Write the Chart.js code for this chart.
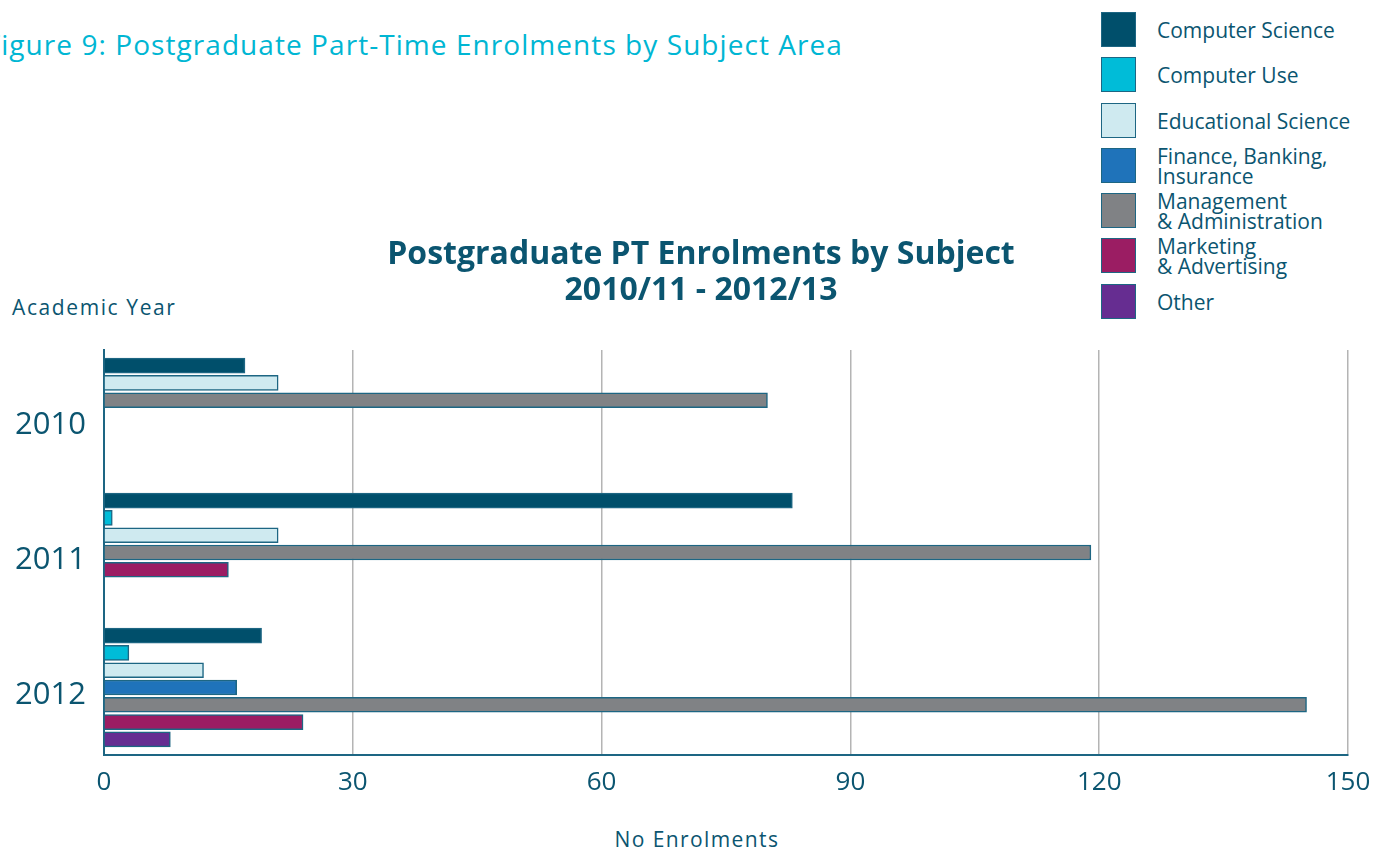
<html>
<head>
<meta charset="utf-8">
<title>Postgraduate PT Enrolments by Subject</title>
<script src="https://cdn.jsdelivr.net/npm/chart.js@4.4.1/dist/chart.umd.min.js"></script>
<style>
body {
  margin: 0;
  width: 1375px;
  height: 852px;
  overflow: hidden;
  background: #fff;
  font-family: "Open Sans", sans-serif;
  color: #0b5570;
  position: relative;
}
.box {
  position: absolute;
  left: 0;
  top: 0;
  width: 1403px;
  height: 852px;
}
.caption {
  position: absolute;
  right: 532px;
  top: 25px;
  font-size: 28px;
  letter-spacing: 1.06px;
  color: #00b6d3;
  white-space: nowrap;
}
.ylabel {
  position: absolute;
  left: 12px;
  top: 293px;
  font-size: 21px;
  letter-spacing: 1.6px;
}
.xlabel {
  position: absolute;
  left: 547px;
  width: 300px;
  text-align: center;
  top: 825px;
  font-size: 21px;
  letter-spacing: 1.4px;
}
#legend {
  position: absolute;
  left: 1101px;
  top: 12px;
}
.item {
  position: relative;
  height: 45.3px;
}
.sw {
  position: absolute;
  left: 0;
  top: 0;
  width: 33px;
  height: 33px;
  border: 1px solid #1d6683;
}
.lt {
  position: absolute;
  left: 56px;
  top: 18px;
  transform: translateY(-50%);
  font-size: 21px;
  line-height: 20px;
  white-space: nowrap;
}
</style>
</head>
<body>
<div class="caption">Figure 9: Postgraduate Part-Time Enrolments by Subject Area</div>
<div class="ylabel">Academic Year</div>
<div class="xlabel">No Enrolments</div>
<div id="legend"></div>
<div class="box"><canvas id="chart"></canvas></div>
<script>
// values, null = no bar that year
const years = ['2010', '2011', '2012'];
const subjects = ['Computer Science', 'Computer Use', 'Educational Science',
  'Finance, Banking,\nInsurance', 'Management\n& Administration',
  'Marketing\n& Advertising', 'Other'];
const computerScience = [17, 83, 19];
const computerUse = [null, 1, 3];
const educationalScience = [21, 21, 12];
const finance = [null, null, 16];
const management = [80, 119, 145];
const marketing = [null, 15, 24];
const other = [null, null, 8];
const xTicks = [0, 30, 60, 90, 120, 150];

const colors = ['#004f6b', '#00bcd8', '#cfeaf0', '#1f73ba', '#808285', '#9b1d63', '#662d91'];
const series = [computerScience, computerUse, educationalScience, finance, management, marketing, other];
const teal = '#0b5570';
const slotStep = 0.128;

// bars of one year are packed from the top, skipping empty subjects
const slots = years.map(() => 0);
const datasets = series.map((vals, s) => ({
  label: subjects[s].replace('\n', ' '),
  data: [],
  backgroundColor: colors[s],
  borderColor: '#1d6683',
  borderWidth: 1.5,
  barThickness: 15,
  grouped: false
}));
years.forEach((y, i) => {
  series.forEach((vals, s) => {
    if (vals[i] === null) return;
    datasets[s].data.push({ x: vals[i], y: i + (slots[i] - 3) * slotStep });
    slots[i]++;
  });
});

document.getElementById('legend').innerHTML = subjects.map((name, s) =>
  `<div class="item"><div class="sw" style="background:${colors[s]}"></div>` +
  `<div class="lt">${name.replace('\n', '<br>')}</div></div>`).join('');

new Chart(document.getElementById('chart'), {
  type: 'bar',
  data: { datasets: datasets },
  options: {
    indexAxis: 'y',
    responsive: true,
    maintainAspectRatio: false,
    animation: false,
    layout: { padding: { top: 237, left: 0, right: 1, bottom: 0 } },
    plugins: {
      legend: { display: false },
      tooltip: { enabled: false },
      title: {
        display: true,
        text: ['Postgraduate PT Enrolments by Subject', '2010/11 - 2012/13'],
        color: teal,
        font: { family: 'Open Sans', size: 32, weight: 'bold', lineHeight: '36px' },
        padding: { top: 0, bottom: 41 }
      }
    },
    scales: {
      x: {
        type: 'linear',
        min: 0,
        max: 150,
        afterBuildTicks: s => { s.ticks = xTicks.map(v => ({ value: v })); },
        afterFit: s => { s.height = 97; },
        ticks: { color: teal, padding: 12, font: { family: 'Open Sans', size: 26 } },
        grid: { color: '#b4b4b4', lineWidth: 1.5, drawTicks: false },
        border: { color: '#1d6683', width: 2 }
      },
      y: {
        type: 'linear',
        min: -0.5,
        max: 2.5,
        reverse: true,
        offset: false,
        afterBuildTicks: s => { s.ticks = years.map((y, i) => ({ value: i })); },
        afterFit: s => { s.width = 104; },
        ticks: {
          color: teal,
          padding: 18,
          font: { family: 'Open Sans', size: 31, lineHeight: '16px' },
          // empty first line nudges the year a little below the group centre
          callback: v => ['', years[v]]
        },
        grid: { display: false, drawTicks: false },
        border: { color: '#1d6683', width: 2 }
      },
      // empty strip on the right so the title centres like the original
      spacer: {
        type: 'linear',
        position: 'right',
        afterFit: s => { s.width = 54; },
        ticks: { display: false },
        grid: { display: false, drawTicks: false },
        border: { display: false }
      }
    }
  }
});
</script>
</body>
</html>
